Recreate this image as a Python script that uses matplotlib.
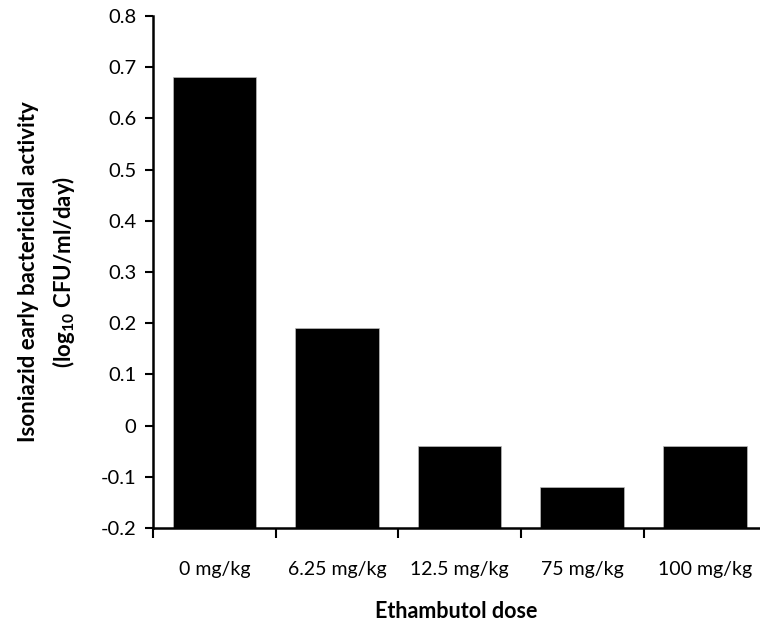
import matplotlib

matplotlib.use("Agg")
import matplotlib.pyplot as plt
from matplotlib.ticker import FixedLocator, MultipleLocator

plt.rcParams["font.family"] = ["Lato", "DejaVu Sans"]
plt.rcParams["mathtext.fontset"] = "custom"
plt.rcParams["mathtext.rm"] = "Lato"
plt.rcParams["mathtext.bf"] = "Lato:bold"

doses = ["0 mg/kg", "6.25 mg/kg", "12.5 mg/kg", "75 mg/kg", "100 mg/kg"]
eba = [0.68, 0.19, -0.04, -0.12, -0.04]

fig = plt.figure(figsize=(7.6, 6.33), dpi=100)
ax = fig.add_axes([0.2013, 0.1659, 0.7987, 0.8088])

xs = list(range(len(doses)))
# bars grow up from the bottom of the axis (-0.2), like the Excel original
ax.bar(xs, [v + 0.2 for v in eba], bottom=-0.2, width=0.68,
       color="black", edgecolor="#bbbbbb", linewidth=0.5)

ax.set_ylim(-0.2, 0.8)
ax.set_xlim(-0.5, 4.45)
ax.yaxis.set_major_locator(MultipleLocator(0.1))
ax.yaxis.set_major_formatter(lambda v, _: f"{v:g}" if abs(v) > 1e-9 else "0")

ax.set_xticks(xs)
ax.set_xticklabels(doses, fontsize=14)
ax.xaxis.set_minor_locator(FixedLocator([i - 0.5 for i in range(6)]))
ax.tick_params(axis="x", which="major", length=0, pad=24)
ax.tick_params(axis="x", which="minor", length=7, width=1.5, direction="out")
ax.tick_params(axis="y", length=6, width=1.5, direction="out", labelsize=14.5, pad=6)

for side in ("top", "right"):
    ax.spines[side].set_visible(False)
for side in ("left", "bottom"):
    ax.spines[side].set_linewidth(1.8)

ax.set_xlabel("Ethambutol dose", fontsize=15.5, fontweight="bold", labelpad=16)
ax.set_ylabel("Isoniazid early bactericidal activity\n(log$_{\\mathbf{10}}$ CFU/ml/day)",
              fontsize=16, fontweight="bold", labelpad=17, linespacing=1.5)

fig.savefig("out.png", dpi=100)
plt.close(fig)
